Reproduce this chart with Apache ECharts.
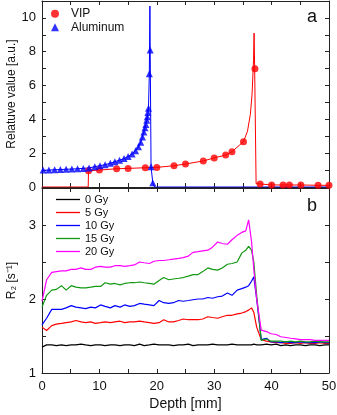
<!DOCTYPE html>
<html><head><meta charset="utf-8">
<script src="https://cdn.jsdelivr.net/npm/echarts@6/dist/echarts.min.js"></script>
<style>html,body{margin:0;padding:0;background:#fff}#c{width:337px;height:415px}</style>
</head><body><div id="c"></div>
<script>
// ---- Panel a: relative value ----
const vipMarkDepth = [8.1,10,13,15,18,20,23,25,28.1,30,32,33.1,35.1,37.1,38,40,42,43.1,45.1,48.1,50];
const vipMarkValue = [0.96,1.0,1.08,1.1,1.14,1.16,1.26,1.36,1.54,1.72,1.89,2.09,2.68,7.0,0.18,0.12,0.12,0.12,0.12,0.1,0.1];
const vipLineDepth = [0,8.05,8.1,10,13,15,18,20,23,25,28.1,30,32,33.1,35.1,35.8,36.3,36.6,36.85,36.95,37.05,37.3,38,40,42,43.1,45.1,48.1,50];
const vipLineValue = [0,0,0.96,1.0,1.08,1.1,1.14,1.16,1.26,1.36,1.54,1.72,1.89,2.09,2.68,3.3,4.3,5.5,7.5,9.1,7.0,0.2,0.18,0.12,0.12,0.12,0.12,0.1,0.1];

const alMarkDepth = [0.2,1.2,2.2,3.2,4.2,5.2,6.2,7.2,8.2,9.2,10.1,11.0,11.9,12.7,13.5,14.3,15.0,15.7,16.3,16.8,17.2,17.5,17.75,17.95,18.1,18.25,18.35,18.45,18.55,18.7,18.85,19.0,19.3];
const alMarkValue = [1.0,1.0,1.02,1.03,1.05,1.06,1.08,1.1,1.13,1.2,1.26,1.32,1.4,1.5,1.58,1.68,1.8,1.95,2.15,2.38,2.65,2.95,3.25,3.5,3.7,3.95,4.15,4.4,4.65,6.7,8.1,1.2,0.25];
const alLineDepth = [0,0.2,1.2,2.2,3.2,4.2,5.2,6.2,7.2,8.2,9.2,10.1,11.0,11.9,12.7,13.5,14.3,15.0,15.7,16.3,16.8,17.2,17.5,17.75,17.95,18.1,18.25,18.35,18.45,18.55,18.7,18.8,18.85,19.0,19.3,19.6,50];
const alLineValue = [0.99,1.0,1.0,1.02,1.03,1.05,1.06,1.08,1.1,1.13,1.2,1.26,1.32,1.4,1.5,1.58,1.68,1.8,1.95,2.15,2.38,2.65,2.95,3.25,3.5,3.7,3.95,4.15,4.4,4.65,6.7,10.7,8.1,1.2,0.25,0,0];

// ---- Panel b: R2 ----
const depthB = [0,0.8,1.7,2.5,3.4,4.2,5.1,5.9,6.8,7.6,8.5,9.3,10.2,11.0,11.9,12.7,13.6,14.4,15.3,16.1,17.0,17.8,18.7,19.5,20.4,21.2,22.1,22.9,23.8,24.6,25.5,26.3,27.2,28.0,28.9,29.7,30.6,31.4,32.3,33.1,34.0,34.8,35.5,36.0,36.5,36.9,37.4,38.2,39.1,39.9,40.8,41.6,42.5,43.3,44.2,45.0,45.9,46.7,47.6,48.4,49.3,50.0];
const r2_0Gy = [1.35,1.38,1.38,1.37,1.38,1.37,1.38,1.38,1.39,1.38, 1.37,1.38,1.38,1.37,1.38,1.38,1.37,1.38,1.38,1.37, 1.39,1.37,1.38,1.39,1.38,1.38,1.38,1.37,1.38,1.38, 1.39,1.37,1.38,1.38,1.38,1.39,1.38,1.38,1.38,1.39, 1.38, 1.38,1.38,1.38,1.38,1.39,1.38,1.38,1.39,1.38,1.39, 1.37,1.38,1.37,1.38,1.38,1.37,1.38,1.38,1.37,1.38, 1.38];
const r2_5Gy = [1.62,1.575,1.64,1.66,1.67,1.68,1.69,1.71,1.69,1.68, 1.69,1.67,1.68,1.69,1.68,1.69,1.70,1.68,1.69,1.69, 1.70,1.69,1.68,1.67,1.68,1.72,1.69,1.69,1.71,1.73, 1.72,1.72,1.72,1.73,1.76,1.75,1.74,1.76,1.78,1.78, 1.80, 1.81,1.83,1.85,1.88,1.82,1.62,1.45,1.43,1.42,1.41, 1.41,1.40,1.40,1.41,1.40,1.41,1.40,1.40,1.41,1.40, 1.40];
const r2_10Gy = [1.65,1.74,1.86,1.86,1.86,1.88,1.91,1.89,1.88,1.87, 1.89,1.88,1.92,1.90,1.88,1.91,1.89,1.92,1.90,1.91, 1.94,1.93,1.92,1.91,1.98,1.95,1.94,1.95,1.98,1.97, 1.98,1.99,2.00,2.00,2.02,2.01,2.03,2.04,2.08,2.05, 2.12, 2.14,2.16,2.18,2.24,2.30,2.00,1.45,1.47,1.42,1.42, 1.41,1.42,1.41,1.41,1.42,1.41,1.41,1.41,1.42,1.41, 1.41];
const r2_15Gy = [1.89,2.05,2.12,2.13,2.18,2.12,2.18,2.16,2.15,2.15, 2.16,2.17,2.17,2.22,2.20,2.21,2.19,2.21,2.22,2.22, 2.23,2.22,2.21,2.20,2.25,2.29,2.26,2.27,2.28,2.29, 2.31,2.33,2.33,2.37,2.42,2.40,2.39,2.42,2.47,2.48, 2.50, 2.62,2.66,2.71,2.66,2.50,2.05,1.44,1.46,1.43,1.43, 1.43,1.42,1.43,1.42,1.43,1.42,1.42,1.43,1.42,1.42, 1.42];
const r2_20Gy = [1.97,2.26,2.36,2.37,2.38,2.38,2.40,2.40,2.42,2.40, 2.40,2.43,2.44,2.43,2.43,2.45,2.45,2.44,2.45,2.46, 2.50,2.49,2.48,2.51,2.52,2.52,2.53,2.54,2.55,2.56, 2.58,2.63,2.64,2.65,2.66,2.70,2.77,2.75,2.74,2.80, 2.86, 2.90,2.92,3.07,2.78,2.40,2.00,1.58,1.56,1.53,1.52, 1.49,1.48,1.47,1.46,1.45,1.45,1.45,1.44,1.44,1.44, 1.44];
const doseNames = ['0 Gy','5 Gy','10 Gy','15 Gy','20 Gy'];
const doseSeries = [r2_0Gy, r2_5Gy, r2_10Gy, r2_15Gy, r2_20Gy];
const doseColors = ['#000000','#ff0000','#0000ff','#119911','#ff00ff'];

const zip = (a, b) => a.map((x, i) => [x, b[i]]);
const FONT = 'Liberation Sans, Arial, sans-serif';
const AX = '#222';

function xAx(grid, pos, labels, name) {
  return {
    type: 'value', gridIndex: grid, position: pos, min: 0, max: 50, interval: 5,
    axisLine: { show: true, onZero: false, lineStyle: { color: AX, width: 1 } },
    axisTick: { show: true, inside: true, length: 4, lineStyle: { color: AX } },
    axisLabel: { show: labels, margin: 7, color: '#111', fontSize: 13, fontFamily: FONT,
      formatter: v => (v % 10 === 0 ? String(v) : '') },
    splitLine: { show: false },
    name: name || '', nameLocation: 'middle', nameGap: 24, nameMoveOverlap: false,
    nameTextStyle: { color: '#111', fontSize: 14, fontFamily: FONT }
  };
}
function yAx(grid, pos, min, max, interval, labelEvery, labels, name) {
  return {
    type: 'value', gridIndex: grid, position: pos, min: min, max: max, interval: interval,
    axisLine: { show: true, onZero: false, lineStyle: { color: AX, width: 1 } },
    axisTick: { show: true, inside: true, length: 4, lineStyle: { color: AX } },
    axisLabel: { show: labels, margin: 6, color: '#111', fontSize: 13, fontFamily: FONT,
      formatter: v => (Math.abs(v / labelEvery - Math.round(v / labelEvery)) < 1e-6 ? String(v) : '') },
    splitLine: { show: false },
    name: name || '', nameLocation: 'middle', nameGap: 24, nameMoveOverlap: false,
    nameTextStyle: { color: '#111', fontSize: 12, fontFamily: FONT }
  };
}

const chart = echarts.init(document.getElementById('c'), null, { renderer: 'canvas' });
const series = [
  { type: 'line', name: 'vipLine', xAxisIndex: 0, yAxisIndex: 0, data: zip(vipLineDepth, vipLineValue),
    showSymbol: false, symbol: 'none', lineStyle: { color: '#ff0000', width: 1 }, z: 2 },
  { type: 'line', name: 'alLine', xAxisIndex: 0, yAxisIndex: 0, data: zip(alLineDepth, alLineValue),
    showSymbol: false, symbol: 'none', lineStyle: { color: '#0000ff', width: 1 }, z: 3 },
  { type: 'scatter', name: 'VIP', xAxisIndex: 0, yAxisIndex: 0, data: zip(vipMarkDepth, vipMarkValue),
    symbol: 'circle', symbolSize: 7, itemStyle: { color: '#ff0000' }, z: 4 },
  { type: 'scatter', name: 'Aluminum', xAxisIndex: 0, yAxisIndex: 0, data: zip(alMarkDepth, alMarkValue),
    symbol: 'triangle', symbolSize: 7, itemStyle: { color: '#0000ff' }, z: 5 }
];
doseNames.forEach((n, i) => {
  series.push({ type: 'line', name: n, xAxisIndex: 2, yAxisIndex: 2, data: zip(depthB, doseSeries[i]),
    symbol: 'none', showSymbol: false, lineStyle: { color: doseColors[i], width: 1.2 },
    itemStyle: { color: doseColors[i] }, z: 2 + i });
});

chart.setOption({
  animation: false,
  backgroundColor: '#fff',
  grid: [
    { left: 42, top: 1, width: 287, height: 186, outerBoundsMode: 'none' },
    { left: 42, top: 188, width: 287, height: 185, outerBoundsMode: 'none' }
  ],
  xAxis: [
    xAx(0, 'bottom', false), xAx(0, 'top', false),
    xAx(1, 'bottom', true, 'Depth [mm]'), xAx(1, 'top', false)
  ],
  yAxis: [
    yAx(0, 'left', 0, 11, 1, 2, true, 'Relatuve value [a.u.]'), yAx(0, 'right', 0, 11, 1, 2, false),
    yAx(1, 'left', 1, 3.5, 0.5, 1, true, 'R\u2082 [s\u207B\u00B9]'), yAx(1, 'right', 1, 3.5, 0.5, 1, false)
  ],
  legend: [
    { data: [{ name: 'VIP', icon: 'circle' }, { name: 'Aluminum', icon: 'triangle' }], orient: 'vertical',
      left: 51, top: 7, padding: 0, itemWidth: 8, itemHeight: 8, itemGap: 0,
      textStyle: { fontSize: 12, fontFamily: FONT, color: '#111', lineHeight: 13.5, padding: [0, 0, 0, 7] }, selectedMode: false },
    { data: doseNames, orient: 'vertical', left: 56, top: 193, padding: 0, icon: 'rect', itemWidth: 24, itemHeight: 1.3, itemGap: 0,
      textStyle: { fontSize: 11, fontFamily: FONT, color: '#111', lineHeight: 13 }, selectedMode: false }
  ],
  graphic: [
    { type: 'text', x: 312, y: 17, style: { text: 'a', font: '18px ' + FONT, fill: '#111', align: 'center', verticalAlign: 'middle' } },
    { type: 'text', x: 312, y: 206, style: { text: 'b', font: '18px ' + FONT, fill: '#111', align: 'center', verticalAlign: 'middle' } }
  ],
  series: series
});
</script></body></html>
